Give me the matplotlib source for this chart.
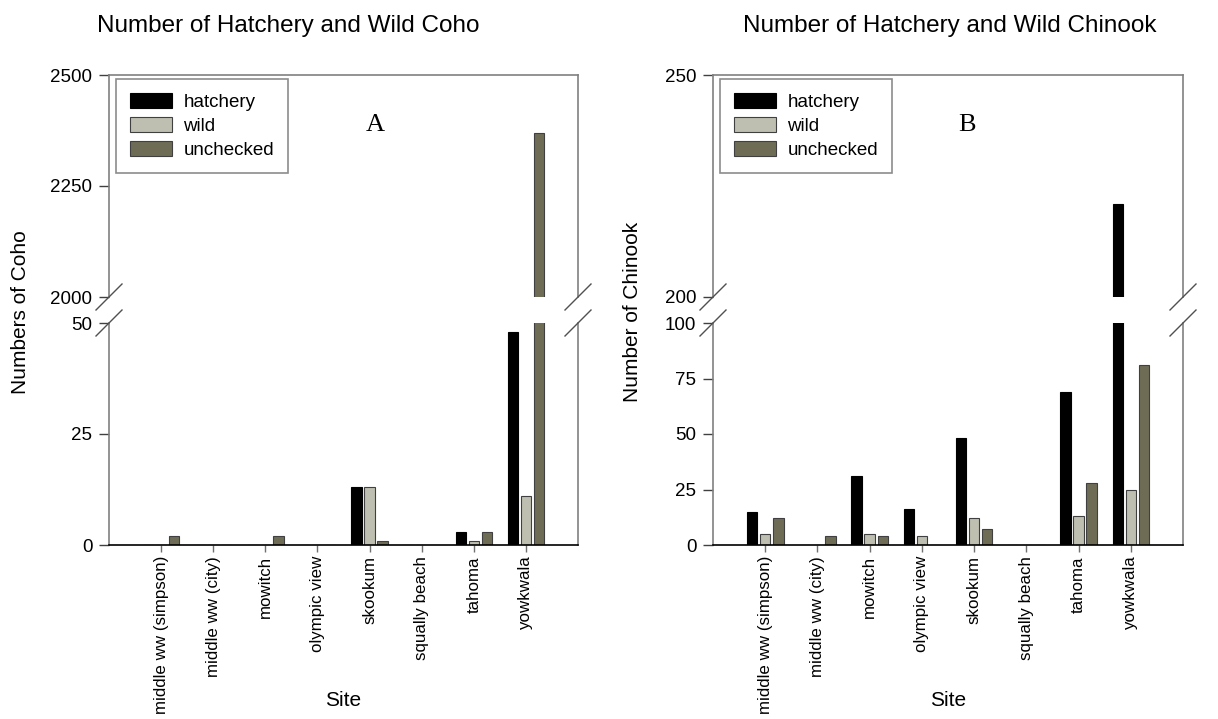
import matplotlib
matplotlib.use("Agg")
import matplotlib.pyplot as plt
from matplotlib.lines import Line2D
from matplotlib.patches import Patch

# Donnees
sites = ["middle ww (simpson)", "middle ww (city)", "mowitch", "olympic view",
         "skookum", "squally beach", "tahoma", "yowkwala"]
series_names = ["hatchery", "wild", "unchecked"]

coho_hatchery = [0, 0, 0, 0, 13, 0, 3, 48]
coho_wild = [0, 0, 0, 0, 13, 0, 1, 11]
coho_unchecked = [2, 0, 2, 0, 1, 0, 3, 2370]

chinook_hatchery = [15, 0, 31, 16, 48, 0, 69, 221]
chinook_wild = [5, 0, 5, 4, 12, 0, 13, 25]
chinook_unchecked = [12, 4, 4, 0, 7, 0, 28, 81]

coho_top_ticks = [2000, 2250, 2500]
coho_bottom_ticks = [0, 25, 50]
chinook_top_ticks = [200, 250]
chinook_bottom_ticks = [0, 25, 50, 75, 100]

colors = ["#000000", "#bfbfb1", "#6f6c56"]
edges = ["#000000", "#404040", "#404040"]

W, H = 1218, 719
plt.rcParams['font.family'] = ['Liberation Sans', 'DejaVu Sans']


def px_axes(fig, x0, y0, x1, y1):
    # coordonnees en pixels (origine en haut a gauche) -> axes
    return fig.add_axes([x0 / W, 1 - y1 / H, (x1 - x0) / W, (y1 - y0) / H])


def draw_panel(fig, x0, x1, values, top_lim, bottom_lim, top_ticks, bottom_ticks,
               ylabel, ylabel_x, title, title_x, letter, letter_x):
    ax_top = px_axes(fig, x0, 75, x1, 297)
    ax_bot = px_axes(fig, x0, 323, x1, 545)
    pos = list(range(len(sites)))
    width = 0.2
    offsets = [-0.25, 0, 0.25]

    for ax in (ax_top, ax_bot):
        for i, vals in enumerate(values):
            ax.bar([p + offsets[i] for p in pos], vals, width,
                   color=colors[i], edgecolor=edges[i], linewidth=0.8)
        ax.set_xlim(-1, 8)
        for s in ("left", "right", "top"):
            ax.spines[s].set_color("#808080")
            ax.spines[s].set_linewidth(1.2)
        ax.tick_params(axis="y", direction="out", length=7, width=1,
                       color="#404040", labelsize=13.5, pad=5)

    ax_top.set_ylim(*top_lim)
    ax_top.set_yticks(top_ticks)
    ax_top.spines["bottom"].set_visible(False)
    ax_top.set_xticks([])

    ax_bot.set_ylim(*bottom_lim)
    ax_bot.set_yticks(bottom_ticks)
    ax_bot.spines["top"].set_visible(False)
    ax_bot.spines["bottom"].set_color("black")
    ax_bot.spines["bottom"].set_linewidth(1.2)
    ax_bot.set_xticks(pos)
    ax_bot.set_xticklabels(sites, rotation=90, fontsize=12.2)
    ax_bot.tick_params(axis="x", direction="out", length=5, width=1,
                       color="#707070", pad=3)

    # marques de coupure de l'axe
    for xb in (x0, x1):
        for yb in (297, 323):
            fig.add_artist(Line2D([(xb - 13) / W, (xb + 13) / W],
                                  [1 - (yb + 13) / H, 1 - (yb - 13) / H],
                                  color="#505050", linewidth=1))

    # legende
    handles = [Patch(facecolor=colors[i], edgecolor=edges[i], linewidth=0.8)
               for i in range(3)]
    leg = ax_top.legend(handles, series_names, loc="upper left",
                        bbox_to_anchor=((x0 + 7) / W, 1 - 79 / H),
                        bbox_transform=fig.transFigure, fontsize=13.5,
                        frameon=True, fancybox=False, borderaxespad=0,
                        handlelength=2.25, handleheight=0.88, handletextpad=0.6,
                        labelspacing=0.3, borderpad=0.75)
    leg.get_frame().set_edgecolor("#707070")
    leg.get_frame().set_linewidth(1.2)

    fig.text(title_x / W, 1 - 26 / H, title, ha="center", va="center", fontsize=17.5)
    fig.text(letter_x / W, 1 - 125 / H, letter, ha="center", va="center",
             fontsize=19, family="Liberation Serif")
    fig.text(ylabel_x / W, 1 - 312 / H, ylabel, rotation=90,
             ha="center", va="center", fontsize=15)
    fig.text((x0 + x1) / 2 / W, 1 - 700 / H, "Site", ha="center", va="center",
             fontsize=15)


def main():
    fig = plt.figure(figsize=(W / 100, H / 100), dpi=100)

    draw_panel(fig, 109, 578, [coho_hatchery, coho_wild, coho_unchecked],
               (2000, 2500), (0, 50), coho_top_ticks, coho_bottom_ticks,
               "Numbers of Coho", 21, "Number of Hatchery and Wild Coho", 288, "A", 375)
    draw_panel(fig, 713, 1183, [chinook_hatchery, chinook_wild, chinook_unchecked],
               (200, 250), (0, 100), chinook_top_ticks, chinook_bottom_ticks,
               "Number of Chinook", 633, "Number of Hatchery and Wild Chinook", 950, "B", 967)

    fig.savefig("out.png", dpi=100)


if __name__ == "__main__":
    main()
